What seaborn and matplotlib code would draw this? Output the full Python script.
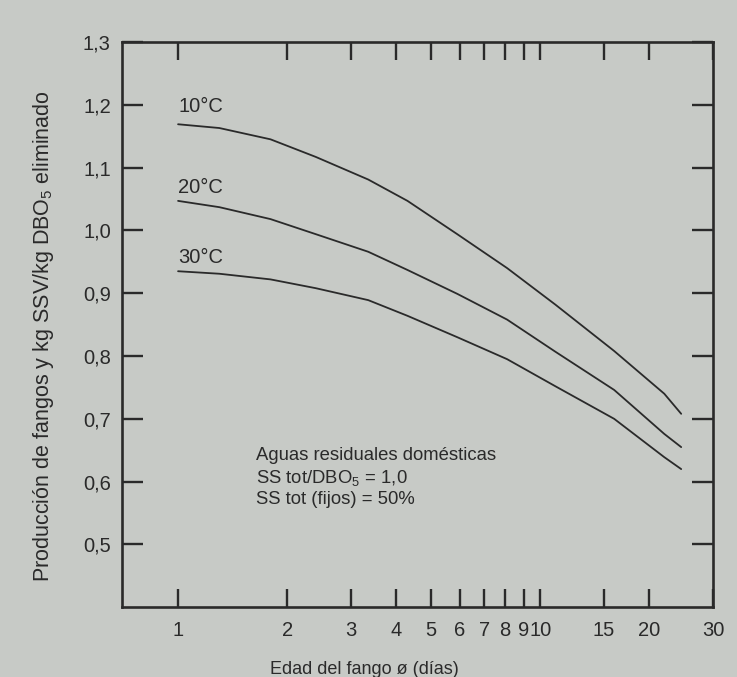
import numpy as np
import pandas as pd
import matplotlib
matplotlib.use('Agg')
import matplotlib.pyplot as plt
import seaborn as sns

sns.set_theme(style='ticks')
plt.rcParams['font.family'] = ['Liberation Sans', 'DejaVu Sans']
plt.rcParams['mathtext.default'] = 'regular'

# edad del fango (dias) and production
dias = [1.0, 1.3, 1.8, 2.4, 3.35, 4.3, 5.9, 8.1, 11, 16, 22, 24.5]
prod_10 = [1.169, 1.163, 1.145, 1.117, 1.081, 1.047, 0.994, 0.940, 0.882, 0.808, 0.740, 0.708]
prod_20 = [1.047, 1.037, 1.018, 0.994, 0.966, 0.937, 0.899, 0.858, 0.807, 0.746, 0.676, 0.655]
prod_30 = [0.935, 0.931, 0.922, 0.908, 0.889, 0.864, 0.830, 0.795, 0.752, 0.700, 0.639, 0.620]
temps = ['10°C', '20°C', '30°C']

x_ticks = [1, 2, 3, 4, 5, 6, 7, 8, 9, 10, 15, 20, 30]
x_labels = ['1', '2', '3', '4', '5', '6', '7', '8', '9', '10', '15', '20', '30']
y_ticks = [0.5, 0.6, 0.7, 0.8, 0.9, 1.0, 1.1, 1.2, 1.3]
y_labels = ['0,5', '0,6', '0,7', '0,8', '0,9', '1,0', '1,1', '1,2', '1,3']

df = pd.DataFrame({
    'dias': dias * 3,
    'prod': prod_10 + prod_20 + prod_30,
    'temp': [t for t in temps for _ in dias],
})

bg = '#c7cac6'
ink = '#2a2a2a'

fig = plt.figure(figsize=(7.37, 6.77), dpi=100, facecolor=bg)
ax = fig.add_axes([0.1655, 0.103, 0.802, 0.835], facecolor=bg)

sns.lineplot(data=df, x='dias', y='prod', hue='temp', palette=[ink] * 3,
             legend=False, sort=False, linewidth=1.3, ax=ax)

ax.set_xscale('log')
ax.set_xlim(0.7, 30)
ax.set_ylim(0.4, 1.3)
ax.set_xticks(x_ticks)
ax.set_xticklabels(x_labels)
ax.minorticks_off()
ax.set_yticks(y_ticks)
ax.set_yticklabels(y_labels)

for s in ax.spines.values():
    s.set_visible(True)
    s.set_linewidth(1.9)
    s.set_color(ink)

ax.tick_params(axis='both', which='major', direction='in', top=True, right=True,
               width=1.7, color=ink, labelcolor=ink, labelsize=14.5)
ax.tick_params(axis='x', pad=10, length=13)
ax.tick_params(axis='y', pad=8, length=15)
ax.grid(False)

ax.set_xlabel('Edad del fango ø (días)', fontsize=13, color=ink)
ax.xaxis.set_label_coords(0.41, -0.095)
ax.set_ylabel('Producción de fangos y kg SSV/kg DBO$_5$ eliminado', fontsize=15.5, color=ink)
ax.yaxis.set_label_coords(-0.112, 0.48)

label_y = [1.197, 1.069, 0.957]
for t, yv in zip(temps, label_y):
    ax.text(1.0, yv, t, fontsize=14.5, color=ink, va='center', ha='left')

ax.text(1.64, 0.607, 'Aguas residuales domésticas\nSS tot/DBO$_5$ = 1,0\nSS tot (fijos) = 50%',
        fontsize=13.3, color=ink, va='center', ha='left', linespacing=1.25)

fig.savefig('out.png', dpi=100, facecolor=bg)
